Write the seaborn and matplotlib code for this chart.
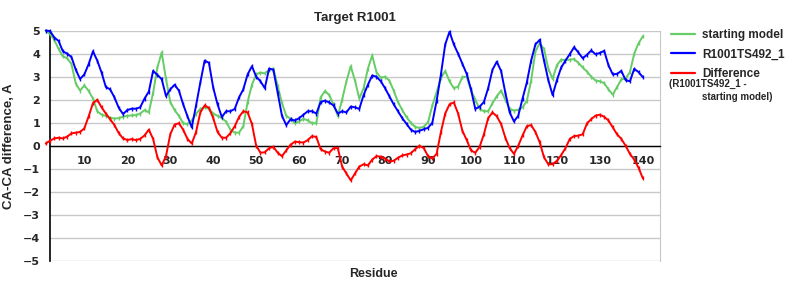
import numpy as np
import pandas as pd
import matplotlib
matplotlib.use("Agg")
import matplotlib.pyplot as plt
import seaborn as sns
from matplotlib.lines import Line2D

residues = list(range(1, 141))

starting_model = [
    5.0, 4.85, 4.6, 4.2, 3.88, 3.8, 3.55, 2.7, 2.4, 2.62,
    2.38, 2.05, 1.5, 1.35, 1.3, 1.22, 1.18, 1.2, 1.26, 1.3,
    1.32, 1.33, 1.4, 1.55, 1.45, 2.3, 3.4, 4.05, 2.9, 1.9,
    1.55, 1.3, 0.98, 0.94, 1.1, 1.4, 1.6, 1.67, 1.6, 1.4,
    1.3, 1.2, 1.05, 0.7, 0.57, 0.57, 0.85, 1.9, 2.65, 3.1,
    3.18, 3.14, 3.3, 3.35, 2.6, 1.85, 1.3, 1.17, 0.98, 1.06,
    1.17, 1.1, 0.98, 0.98, 2.1, 2.38, 2.2, 1.8, 1.3, 2.0,
    2.8, 3.45, 2.83, 2.05, 2.5, 3.35, 3.92, 3.2, 2.95, 3.0,
    2.83, 2.4, 1.9, 1.55, 1.24, 1.0, 0.82, 0.77, 0.83, 1.02,
    1.75, 2.33, 2.95, 3.25, 2.8, 2.5, 2.57, 2.98, 3.0, 2.4,
    2.0, 1.6, 1.5, 1.5, 1.85, 2.15, 2.4, 2.0, 1.6, 1.53,
    1.56, 1.67, 1.95, 2.83, 4.1, 4.45, 4.2, 3.35, 2.9, 3.5,
    3.74, 3.72, 3.74, 3.76, 3.6, 3.4, 3.22, 3.0, 2.83, 2.8,
    2.72, 2.45, 2.22, 2.55, 2.88, 2.92, 3.2, 4.0, 4.45, 4.75,
]

r1001ts492_1 = [
    5.0, 4.98, 4.7, 4.55, 4.1, 4.0, 3.85, 3.3, 2.9, 3.1,
    3.55, 4.1, 3.7, 3.18, 2.55, 2.45, 2.1, 1.65, 1.38, 1.55,
    1.61, 1.61, 1.67, 2.05, 2.35, 3.25, 3.08, 2.89, 2.16, 2.45,
    2.65, 2.4, 1.8, 1.28, 0.8, 1.75, 2.75, 3.7, 3.6, 2.52,
    1.8, 1.25, 1.5, 1.5, 1.6, 2.1, 2.45, 3.1, 3.45, 3.0,
    2.8, 2.5, 3.35, 3.3, 2.3, 1.3, 0.9, 1.15, 1.1, 1.2,
    1.35, 1.5, 1.5, 1.4, 1.9, 1.96, 1.88, 1.75, 1.4, 1.5,
    1.45, 1.7, 1.67, 1.6, 2.2, 2.65, 3.05, 3.0, 2.8, 2.5,
    2.15, 1.8, 1.5, 1.2, 0.95, 0.7, 0.6, 0.65, 0.72, 0.78,
    1.0, 1.95, 3.1, 4.4, 4.95, 4.4, 4.0, 3.56, 3.12, 2.45,
    1.6, 1.7, 1.9, 2.5, 3.3, 3.65, 3.25, 2.3, 1.45, 1.06,
    1.3, 2.05, 2.75, 3.7, 4.4, 4.6, 3.7, 2.85, 2.2, 2.85,
    3.4, 3.7, 3.98, 4.28, 4.05, 3.8, 3.95, 4.14, 3.97, 4.03,
    4.12, 3.5, 3.1, 3.12, 3.25, 2.85, 2.8, 3.34, 3.2, 2.98,
]

difference = [
    0.1, 0.22, 0.32, 0.35, 0.32, 0.4, 0.54, 0.57, 0.6, 0.76,
    1.28, 1.85, 2.0, 1.67, 1.4, 1.15, 0.9, 0.55, 0.32, 0.25,
    0.29, 0.25, 0.3, 0.45, 0.7, 0.3, -0.5, -0.85, -0.45, 0.5,
    0.92, 0.98, 0.7, 0.3, 0.1, 0.6, 1.45, 1.75, 1.65, 1.2,
    0.6, 0.35, 0.35, 0.55, 0.85, 1.25, 1.5, 1.45, 0.95, 0.0,
    -0.3, -0.28, -0.1, -0.05, -0.3, -0.45, -0.2, 0.05, 0.18, 0.16,
    0.14, 0.25, 0.42, 0.38, -0.15, -0.25, -0.3, -0.1, -0.1, -0.9,
    -1.2, -1.5, -1.2, -0.9, -0.8, -0.85, -0.6, -0.45, -0.47, -0.56,
    -0.68, -0.65, -0.52, -0.42, -0.38, -0.32, -0.15, 0.0, -0.1, -0.45,
    -0.55, -0.35, 0.6, 1.4, 1.8, 1.88, 1.4, 0.65, 0.25, -0.2,
    -0.3, -0.05, 0.5, 1.2, 1.45, 1.28, 0.95, 0.35, -0.1, -0.35,
    0.0, 0.45, 0.85, 0.9, 0.6, 0.15, -0.5, -0.8, -0.8, -0.65,
    -0.4, -0.1, 0.3, 0.42, 0.44, 0.5, 0.97, 1.16, 1.31, 1.35,
    1.26, 1.1, 0.8, 0.5, 0.3, 0.0, -0.35, -0.6, -0.95, -1.41,
]

series_names = ["starting model", "R1001TS492_1", "Difference"]
series_colors = ["#66CC66", "#0000FF", "#FF0000"]
x_ticks = list(range(10, 141, 10))
y_ticks = list(range(-5, 6))

df = pd.DataFrame({
    "Residue": residues * 3,
    "value": starting_model + r1001ts492_1 + difference,
    "series": [series_names[0]] * 140 + [series_names[1]] * 140 + [series_names[2]] * 140,
})

sns.set_style("white")
plt.rcParams["font.family"] = ["Liberation Sans", "DejaVu Sans"]

fig = plt.figure(figsize=(8, 3), dpi=100)
ax = fig.add_axes([0.0625, 0.13, 0.7625, 0.768])

for name, col in zip(series_names, series_colors):
    sub = df[df["series"] == name]
    sns.lineplot(data=sub, x="Residue", y="value", ax=ax, color=col,
                 linewidth=1.4, marker="|", markersize=2.5, markeredgewidth=1.0,
                 markeredgecolor=col, legend=False, clip_on=False, zorder=3)

ax.set_xlim(2.0, 144.0)
ax.set_ylim(-5, 5)
ax.set_yticks(y_ticks)
ax.set_xticks(x_ticks)
ax.grid(axis="y", color="#C8C8C8", linewidth=1.0)
ax.grid(axis="x", visible=False)
ax.set_axisbelow(True)

ax.spines["bottom"].set_position(("data", 0))
ax.spines["bottom"].set_color("black")
ax.spines["bottom"].set_linewidth(1.0)
ax.spines["left"].set_color("black")
ax.spines["left"].set_linewidth(1.2)
ax.spines["right"].set_color("#C8C8C8")
ax.spines["top"].set_visible(False)

ax.tick_params(axis="x", direction="out", length=4, color="#A0A0A0", pad=3)
ax.tick_params(axis="y", length=0, pad=7)
for lab in ax.get_xticklabels() + ax.get_yticklabels():
    lab.set_fontfamily("DejaVu Sans")
    lab.set_fontweight("bold")
    lab.set_fontsize(8)

ax.set_xlabel("Residue", fontsize=9, fontweight="bold")
ax.xaxis.set_label_coords(0.53, -0.03)
ax.set_ylabel("CA-CA difference, A", fontsize=9.5, fontweight="bold")
ax.yaxis.set_label_coords(-0.057, 0.5)
ax.set_title("Target R1001", fontsize=9.5, fontweight="bold", pad=7)

handles = [Line2D([0], [0], color=c, linewidth=1.6) for c in series_colors]
leg = ax.legend(handles, series_names, loc="upper left", bbox_to_anchor=(1.005, 1.042),
                frameon=False, handlelength=2.0, handletextpad=0.6, labelspacing=0.63,
                prop={"weight": "bold", "size": 8.5}, borderaxespad=0.3)
fig.text(0.836, 0.720, "(R1001TS492_1 -", fontsize=7, fontweight="bold", va="center")
fig.text(0.877, 0.675, "starting model)", fontsize=7, fontweight="bold", va="center")

fig.savefig("out.png", dpi=100)
